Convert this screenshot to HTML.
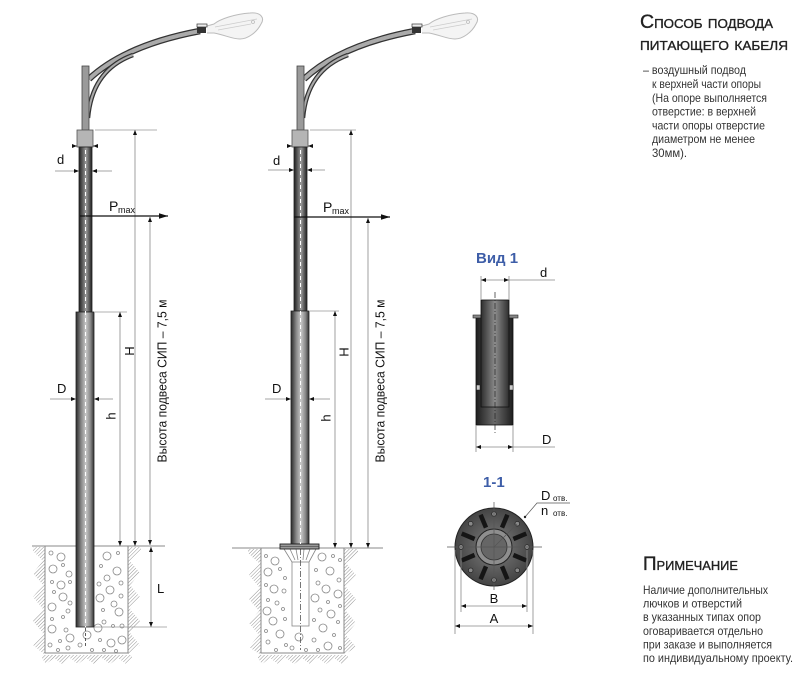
<!DOCTYPE html>
<html><head><meta charset="utf-8"><style>
html,body{margin:0;padding:0;background:#fff;}
svg{display:block;font-family:"Liberation Sans",sans-serif;}
</style></head><body>
<svg width="800" height="676" viewBox="0 0 800 676" xmlns="http://www.w3.org/2000/svg">
<defs>
<linearGradient id="gUp" x1="0" x2="1" y1="0" y2="0">
<stop offset="0" stop-color="#1e1e1e"/><stop offset="0.35" stop-color="#6e6e6e"/><stop offset="0.55" stop-color="#9a9a9a"/><stop offset="0.8" stop-color="#555"/><stop offset="1" stop-color="#1e1e1e"/>
</linearGradient>
<linearGradient id="gLow" x1="0" x2="1" y1="0" y2="0">
<stop offset="0" stop-color="#2a2a2a"/><stop offset="0.3" stop-color="#8a8a8a"/><stop offset="0.55" stop-color="#c8c8c8"/><stop offset="0.8" stop-color="#8a8a8a"/><stop offset="1" stop-color="#333"/>
</linearGradient>
<linearGradient id="gSl" x1="0" x2="1" y1="0" y2="0">
<stop offset="0" stop-color="#1e1e1e"/><stop offset="0.5" stop-color="#6a6a6a"/><stop offset="1" stop-color="#1e1e1e"/>
</linearGradient>
<linearGradient id="gTb" x1="0" x2="1" y1="0" y2="0">
<stop offset="0" stop-color="#2e2e2e"/><stop offset="0.5" stop-color="#8c8c8c"/><stop offset="1" stop-color="#2e2e2e"/>
</linearGradient>
<radialGradient id="gDisk" cx="0.5" cy="0.5" r="0.5">
<stop offset="0" stop-color="#808080"/><stop offset="1" stop-color="#444"/>
</radialGradient>
<pattern id="hat" width="2.5" height="2.5" patternUnits="userSpaceOnUse" patternTransform="rotate(45)">
<line x1="0" y1="0" x2="0" y2="2.5" stroke="#777" stroke-width="0.8"/>
</pattern>
<marker id="ar" viewBox="0 0 6 6" refX="6" refY="3" markerWidth="5" markerHeight="5" orient="auto-start-reverse" markerUnits="userSpaceOnUse">
<path d="M0,0.6L6,3L0,5.4z" fill="#111"/>
</marker>
<marker id="arB" viewBox="0 0 10 6" refX="10" refY="3" markerWidth="9" markerHeight="6" orient="auto" markerUnits="userSpaceOnUse">
<path d="M0,0L10,3L0,6z" fill="#111"/>
</marker>
<g id="top">
  <path d="M89,79 Q125.5,45 200,31" fill="none" stroke="#333" stroke-width="6.5"/>
  <path d="M89,79 Q125.5,45 200,31" fill="none" stroke="#aaa" stroke-width="4"/>
  <path d="M88,118 Q92,70 133,55" fill="none" stroke="#333" stroke-width="4.5"/>
  <path d="M88,118 Q92,70 133,55" fill="none" stroke="#aaa" stroke-width="2"/>
  <rect x="82" y="66" width="7" height="64" fill="#9a9a9a" stroke="#444" stroke-width="0.8"/>
  <path d="M207,26 L214,24 C220,19 235,14 250,13 C261,12 265,18 261,24 C257,32 248,39 240,39 C232,39 225,35 214,33 L207,33" fill="#f4f4f4" stroke="#bbb" stroke-width="1"/>
  <path d="M215,27 L257,19 M218,30 L251,24" fill="none" stroke="#ccc" stroke-width="0.8"/>
  <circle cx="253" cy="22" r="1.5" fill="none" stroke="#bbb" stroke-width="0.8"/>
  <rect x="197" y="24" width="10" height="3" fill="#eee" stroke="#333" stroke-width="0.7"/>
  <rect x="197" y="27" width="9" height="6" fill="#333"/>
  <rect x="77" y="130" width="16" height="17" fill="#b5b5b5" stroke="#555" stroke-width="0.8"/>
</g>
</defs>

<!-- ============ LEFT POLE ============ -->
<g fill="none" stroke="#888" stroke-width="0.8">
<circle cx="51" cy="553" r="2"/><circle cx="61" cy="557" r="4"/><circle cx="53" cy="569" r="4"/><circle cx="63" cy="565" r="1.5"/><circle cx="69" cy="574" r="3"/><circle cx="52" cy="582" r="1.5"/><circle cx="61" cy="585" r="4"/><circle cx="70" cy="582" r="1.5"/><circle cx="54" cy="592" r="1.5"/><circle cx="63" cy="597" r="4"/><circle cx="52" cy="607" r="4"/><circle cx="70" cy="603" r="2"/><circle cx="68" cy="611" r="2"/><circle cx="52" cy="619" r="1.5"/><circle cx="63" cy="617" r="1.5"/><circle cx="52" cy="629" r="4"/><circle cx="66" cy="630" r="2"/><circle cx="60" cy="641" r="1.5"/><circle cx="70" cy="638" r="4"/><circle cx="50" cy="645" r="2"/><circle cx="58" cy="650" r="1.5"/><circle cx="68" cy="648" r="2"/>
<circle cx="107" cy="556" r="4"/><circle cx="118" cy="553" r="1.5"/><circle cx="101" cy="566" r="1.5"/><circle cx="117" cy="571" r="4"/><circle cx="107" cy="578" r="3"/><circle cx="99" cy="584" r="2"/><circle cx="121" cy="583" r="2"/><circle cx="110" cy="590" r="4"/><circle cx="100" cy="598" r="4"/><circle cx="121" cy="596" r="2"/><circle cx="114" cy="604" r="3"/><circle cx="103" cy="610" r="1.5"/><circle cx="119" cy="612" r="4"/><circle cx="104" cy="622" r="2"/><circle cx="113" cy="626" r="1.5"/><circle cx="98" cy="628" r="4"/><circle cx="122" cy="626" r="2"/>
<circle cx="87" cy="635" r="4"/><circle cx="80" cy="645" r="2"/><circle cx="92" cy="650" r="1.5"/><circle cx="100" cy="640" r="1.5"/><circle cx="111" cy="643" r="4"/><circle cx="122" cy="640" r="4"/><circle cx="104" cy="650" r="1.5"/><circle cx="116" cy="651" r="1.5"/>
</g>
<polygon points="45,547 33,547 33,551 43,561 33,573 43,585 33,597 43,609 33,621 43,633 33,645 45,655" fill="url(#hat)"/>
<polygon points="128,547 141,547 141,551 130,561 140,573 130,585 140,597 130,609 140,621 130,633 140,645 128,655" fill="url(#hat)"/>
<polygon points="42,655 132,655 132,658 126,664 118,658 110,664 102,658 94,664 86,658 78,664 70,658 62,664 54,658 46,664 42,658" fill="url(#hat)"/>
<path d="M45,546 L45,653 L128,653 L128,546" fill="none" stroke="#888" stroke-width="1"/>
<line x1="32" y1="546" x2="165" y2="546" stroke="#888" stroke-width="1"/>

<use href="#top"/>
<rect x="79" y="147" width="13" height="165" fill="url(#gUp)" stroke="#222" stroke-width="0.8"/>
<rect x="76" y="312" width="18" height="315" fill="url(#gLow)" stroke="#222" stroke-width="0.8"/>
<line x1="85.5" y1="150" x2="85.5" y2="627" stroke="#fff" stroke-width="1" stroke-dasharray="4 3"/>
<line x1="85.5" y1="628" x2="85.5" y2="647" stroke="#333" stroke-width="0.8" stroke-dasharray="3 2"/>
<path d="M72,146 L77,146" stroke="#111" stroke-width="0.6" marker-end="url(#ar)"/>
<path d="M98,146 L93,146" stroke="#111" stroke-width="0.6" marker-end="url(#ar)"/>

<g stroke="#999" stroke-width="0.8" fill="none">
<line x1="95" y1="130" x2="157" y2="130"/>
<line x1="95" y1="312" x2="127" y2="312"/>
<line x1="94" y1="627" x2="167" y2="627"/>
</g>
<g stroke="#888" stroke-width="0.8" fill="none">
<path d="M135,130 L135,546" marker-start="url(#ar)" marker-end="url(#ar)"/>
<path d="M150,217 L150,545" marker-start="url(#ar)" marker-end="url(#ar)"/>
<path d="M120,312 L120,546" marker-start="url(#ar)" marker-end="url(#ar)"/>
<path d="M151,547 L151,627" marker-start="url(#ar)" marker-end="url(#ar)"/>
<path d="M55,171 L79,171" marker-end="url(#ar)"/>
<path d="M112,171 L92,171" marker-end="url(#ar)"/>
<path d="M50,399 L76,399" marker-end="url(#ar)"/>
<path d="M113,399 L94,399" marker-end="url(#ar)"/>
</g>
<path d="M80,216 L168,216" stroke="#111" stroke-width="1.2" marker-end="url(#arB)"/>
<g fill="#111" font-size="13">
<text x="57" y="164">d</text>
<text x="57" y="393">D</text>
<text x="109" y="211" font-size="14">P</text>
<text x="118" y="213" font-size="9">max</text>
<text transform="translate(134,351) rotate(-90)" text-anchor="middle">H</text>
<text transform="translate(115.5,416) rotate(-90)" text-anchor="middle">h</text>
<text x="157" y="593">L</text>
<text transform="translate(166.5,381) rotate(-90)" x="-81.5" textLength="163" lengthAdjust="spacingAndGlyphs">Высота подвеса СИП – 7,5 м</text>
</g>

<!-- ============ RIGHT POLE ============ -->
<g fill="none" stroke="#888" stroke-width="0.8">
<circle cx="266" cy="556" r="1.5"/><circle cx="275" cy="561" r="4"/><circle cx="268" cy="572" r="4"/><circle cx="280" cy="569" r="1.5"/><circle cx="285" cy="578" r="1.5"/><circle cx="266" cy="585" r="1.5"/><circle cx="274" cy="589" r="4"/><circle cx="284" cy="591" r="2"/><circle cx="268" cy="600" r="1.5"/><circle cx="277" cy="603" r="2"/><circle cx="267" cy="611" r="4"/><circle cx="283" cy="609" r="1.5"/><circle cx="273" cy="621" r="4"/><circle cx="285" cy="619" r="1.5"/><circle cx="266" cy="631" r="1.5"/><circle cx="280" cy="634" r="4"/><circle cx="268" cy="642" r="2"/><circle cx="286" cy="645" r="1.5"/><circle cx="276" cy="650" r="1.5"/>
<circle cx="322" cy="557" r="4"/><circle cx="333" cy="556" r="1.5"/><circle cx="340" cy="560" r="1.5"/><circle cx="316" cy="570" r="1.5"/><circle cx="330" cy="571" r="4"/><circle cx="339" cy="580" r="2"/><circle cx="318" cy="583" r="2"/><circle cx="326" cy="589" r="4"/><circle cx="338" cy="594" r="4"/><circle cx="315" cy="598" r="4"/><circle cx="328" cy="602" r="1.5"/><circle cx="340" cy="606" r="1.5"/><circle cx="320" cy="610" r="2"/><circle cx="331" cy="614" r="4"/><circle cx="314" cy="620" r="1.5"/><circle cx="338" cy="622" r="1.5"/><circle cx="323" cy="628" r="4"/><circle cx="334" cy="635" r="1.5"/><circle cx="314" cy="640" r="2"/><circle cx="328" cy="646" r="4"/><circle cx="340" cy="648" r="1.5"/><circle cx="318" cy="650" r="1.5"/>
<circle cx="299" cy="637" r="4"/><circle cx="292" cy="648" r="2"/><circle cx="306" cy="650" r="1.5"/>
</g>
<polygon points="261,549 248,549 248,553 259,563 249,575 259,587 249,599 259,611 249,623 259,635 249,647 261,655" fill="url(#hat)"/>
<polygon points="344,549 358,549 358,553 346,563 356,575 346,587 356,599 346,611 356,623 346,635 356,647 344,655" fill="url(#hat)"/>
<polygon points="258,655 348,655 348,658 342,664 334,658 326,664 318,658 310,664 302,658 294,664 286,658 278,664 270,658 262,664 258,658" fill="url(#hat)"/>
<path d="M261,548 L261,653 L344,653 L344,548" fill="none" stroke="#888" stroke-width="1"/>
<line x1="232" y1="548" x2="383" y2="548" stroke="#888" stroke-width="1"/>
<g stroke="#888" stroke-width="0.8" fill="none">
<rect x="292" y="562" width="17" height="64" fill="#fff"/>
<path d="M284,549 L292,562 M316,549 L309,562 M290,549 L295,560 M296,549 L298,560 M304,549 L303,560 M310,549 L306,560"/>
</g>
<line x1="300.5" y1="549" x2="300.5" y2="650" stroke="#555" stroke-width="0.8" stroke-dasharray="6 2 1 2"/>

<use href="#top" x="215"/>
<rect x="294" y="147" width="13" height="164" fill="url(#gUp)" stroke="#222" stroke-width="0.8"/>
<rect x="291" y="311" width="18" height="233" fill="url(#gLow)" stroke="#222" stroke-width="0.8"/>
<rect x="280" y="544" width="39" height="5" fill="#999" stroke="#222" stroke-width="0.9"/>
<line x1="280" y1="546.5" x2="319" y2="546.5" stroke="#333" stroke-width="0.6"/>
<line x1="300.5" y1="150" x2="300.5" y2="544" stroke="#fff" stroke-width="1" stroke-dasharray="4 3"/>
<path d="M287,146 L292,146" stroke="#111" stroke-width="0.6" marker-end="url(#ar)"/>
<path d="M313,146 L308,146" stroke="#111" stroke-width="0.6" marker-end="url(#ar)"/>

<g stroke="#999" stroke-width="0.8" fill="none">
<line x1="310" y1="130" x2="356" y2="130"/>
<line x1="310" y1="311" x2="339" y2="311"/>
</g>
<g stroke="#888" stroke-width="0.8" fill="none">
<path d="M351,130 L351,548" marker-start="url(#ar)" marker-end="url(#ar)"/>
<path d="M368,218 L368,548" marker-start="url(#ar)" marker-end="url(#ar)"/>
<path d="M335,311 L335,548" marker-start="url(#ar)" marker-end="url(#ar)"/>
<path d="M268,170 L294,170" marker-end="url(#ar)"/>
<path d="M325,170 L307,170" marker-end="url(#ar)"/>
<path d="M265,399 L291,399" marker-end="url(#ar)"/>
<path d="M330,399 L309,399" marker-end="url(#ar)"/>
</g>
<path d="M294,217 L390,217" stroke="#111" stroke-width="1.2" marker-end="url(#arB)"/>
<g fill="#111" font-size="13">
<text x="273" y="165">d</text>
<text x="272" y="393">D</text>
<text x="323" y="212" font-size="14">P</text>
<text x="332" y="214" font-size="9">max</text>
<text transform="translate(348.5,352) rotate(-90)" text-anchor="middle">H</text>
<text transform="translate(330.5,418) rotate(-90)" text-anchor="middle">h</text>
<text transform="translate(384.5,381) rotate(-90)" x="-81.5" textLength="163" lengthAdjust="spacingAndGlyphs">Высота подвеса СИП – 7,5 м</text>
</g>

<!-- ============ VID 1 ============ -->
<text x="476" y="263" font-size="15" font-weight="bold" fill="#3e5ea8">Вид 1</text>
<rect x="476" y="317" width="37" height="108" fill="url(#gSl)" stroke="#111" stroke-width="0.8"/>
<rect x="473" y="315" width="8" height="3" fill="#888" stroke="#222" stroke-width="0.6"/>
<rect x="509" y="315" width="9" height="3" fill="#888" stroke="#222" stroke-width="0.6"/>
<rect x="481" y="300" width="28" height="107" fill="url(#gTb)" stroke="#111" stroke-width="0.8"/>
<rect x="476.5" y="385" width="3.5" height="5" fill="#ccc" stroke="#222" stroke-width="0.5"/>
<rect x="509.5" y="385" width="3.5" height="5" fill="#ccc" stroke="#222" stroke-width="0.5"/>
<line x1="495" y1="292" x2="495" y2="433" stroke="#222" stroke-width="0.7" stroke-dasharray="6 2 1 2"/>
<g stroke="#888" stroke-width="0.8" fill="none">
<line x1="481" y1="276" x2="481" y2="300"/>
<line x1="509" y1="276" x2="509" y2="300"/>
<path d="M481,280 L509,280" marker-start="url(#ar)" marker-end="url(#ar)"/>
<line x1="509" y1="280" x2="555" y2="280"/>
<line x1="476" y1="425" x2="476" y2="452"/>
<line x1="513" y1="425" x2="513" y2="452"/>
<path d="M476,447 L513,447" marker-start="url(#ar)" marker-end="url(#ar)"/>
<line x1="513" y1="447" x2="555" y2="447"/>
</g>
<text x="540" y="277" font-size="13" fill="#111">d</text>
<text x="542" y="444" font-size="13" fill="#111">D</text>

<!-- ============ SECTION 1-1 ============ -->
<text x="483" y="487" font-size="15" font-weight="bold" fill="#3e5ea8">1-1</text>
<circle cx="494" cy="547" r="39" fill="url(#gDisk)" stroke="#222" stroke-width="1"/>
<g stroke="#151515" stroke-width="4.5" stroke-linecap="butt">
<line x1="513.4" y1="555" x2="526.3" y2="560.4"/>
<line x1="502" y1="566.4" x2="507.4" y2="579.3"/>
<line x1="486" y1="566.4" x2="480.6" y2="579.3"/>
<line x1="474.6" y1="555" x2="461.7" y2="560.4"/>
<line x1="474.6" y1="539" x2="461.7" y2="533.6"/>
<line x1="486" y1="527.6" x2="480.6" y2="514.7"/>
<line x1="502" y1="527.6" x2="507.4" y2="514.7"/>
<line x1="513.4" y1="539" x2="526.3" y2="533.6"/>
</g>
<g fill="#888" stroke="#222" stroke-width="0.7">
<circle cx="527" cy="547" r="2.3"/><circle cx="517.3" cy="570.3" r="2.3"/><circle cx="494" cy="580" r="2.3"/><circle cx="470.7" cy="570.3" r="2.3"/><circle cx="461" cy="547" r="2.3"/><circle cx="470.7" cy="523.7" r="2.3"/><circle cx="494" cy="514" r="2.3"/><circle cx="517.3" cy="523.7" r="2.3"/>
</g>
<circle cx="494" cy="547" r="18" fill="#8e8e8e" stroke="#222" stroke-width="1"/>
<circle cx="494" cy="547" r="13" fill="#666" stroke="#333" stroke-width="0.8"/>
<g stroke="#555" stroke-width="0.7" fill="none">
<line x1="447" y1="547" x2="542" y2="547"/>
<line x1="494" y1="502" x2="494" y2="590"/>
<line x1="494" y1="547" x2="517" y2="524"/>
<path d="M525,517 L537,503 L570,503"/>
</g>
<circle cx="525" cy="517" r="1.2" fill="#222"/>
<g stroke="#888" stroke-width="0.8" fill="none">
<line x1="455" y1="550" x2="455" y2="634"/>
<line x1="533" y1="550" x2="533" y2="634"/>
<line x1="461" y1="550" x2="461" y2="612"/>
<line x1="527" y1="550" x2="527" y2="612"/>
<path d="M461,606 L527,606" marker-start="url(#ar)" marker-end="url(#ar)"/>
<path d="M455,626 L533,626" marker-start="url(#ar)" marker-end="url(#ar)"/>
</g>
<g fill="#111">
<text x="494" y="603" font-size="13" text-anchor="middle">B</text>
<text x="494" y="623" font-size="13" text-anchor="middle">A</text>
<text x="541" y="500" font-size="13">D</text>
<text x="553" y="501" font-size="8">отв.</text>
<text x="541" y="515" font-size="13">n</text>
<text x="553" y="516" font-size="8">отв.</text>
</g>

<!-- ============ RIGHT TEXT ============ -->
<g fill="#222" stroke="#222" stroke-width="0.35" font-size="19" style="font-variant:small-caps">
<text x="640" y="28" textLength="133" lengthAdjust="spacingAndGlyphs">Способ подвода</text>
<text x="640" y="50" textLength="148" lengthAdjust="spacingAndGlyphs">питающего кабеля</text>
<text x="643" y="570" textLength="95" lengthAdjust="spacingAndGlyphs">Примечание</text>
</g>
<g fill="#333" font-size="12">
<text x="643" y="74" textLength="103" lengthAdjust="spacingAndGlyphs">– воздушный подвод</text>
<text x="652" y="88" textLength="109" lengthAdjust="spacingAndGlyphs">к верхней части опоры</text>
<text x="652" y="102" textLength="115" lengthAdjust="spacingAndGlyphs">(На опоре выполняется</text>
<text x="652" y="115.5" textLength="104" lengthAdjust="spacingAndGlyphs">отверстие: в верхней</text>
<text x="652" y="129.5" textLength="113" lengthAdjust="spacingAndGlyphs">части опоры отверстие</text>
<text x="652" y="143" textLength="103" lengthAdjust="spacingAndGlyphs">диаметром не менее</text>
<text x="652" y="157" textLength="35" lengthAdjust="spacingAndGlyphs">30мм).</text>

<text x="643" y="594" textLength="125" lengthAdjust="spacingAndGlyphs">Наличие дополнительных</text>
<text x="643" y="607.5" textLength="99" lengthAdjust="spacingAndGlyphs">лючков и отверстий</text>
<text x="643" y="621" textLength="118" lengthAdjust="spacingAndGlyphs">в указанных типах опор</text>
<text x="643" y="635" textLength="120" lengthAdjust="spacingAndGlyphs">оговаривается отдельно</text>
<text x="643" y="648.5" textLength="129" lengthAdjust="spacingAndGlyphs">при заказе и выполняется</text>
<text x="643" y="662" textLength="150" lengthAdjust="spacingAndGlyphs">по индивидуальному проекту.</text>
</g>
</svg>
</body></html>
